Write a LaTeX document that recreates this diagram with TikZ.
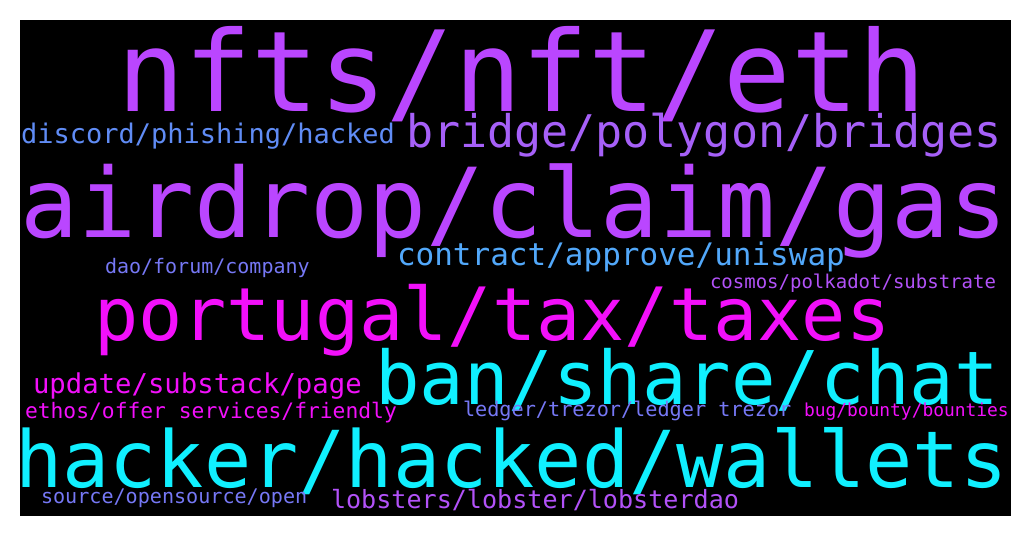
\documentclass[tikz,border=0pt]{standalone}
\usepackage{fontspec}
\newfontfamily\cloudfont{DejaVu Sans Mono}
\usepackage{tikz}
\usetikzlibrary{positioning}

\definecolor{cyanw}{RGB}{16,240,255}
\definecolor{magw}{RGB}{242,16,250}
\definecolor{purw}{RGB}{186,70,255}
\definecolor{violw}{RGB}{166,96,248}
\definecolor{cornw}{RGB}{96,140,245}
\definecolor{skyw}{RGB}{82,168,250}
\definecolor{slatew}{RGB}{118,120,245}
\definecolor{lilacw}{RGB}{178,82,248}

\newcommand{\wsize}[1]{\cloudfont\fontsize{#1}{#1}\selectfont}

\begin{document}
\begin{tikzpicture}[x=1pt, y=-1pt,
wordnode/.style={anchor=base west, inner sep=0pt, outer sep=0pt},
]
\useasboundingbox (0,0) rectangle (1031,536);
\fill[black] (20,20) rectangle (1011,516);

%Nodes
\node[wordnode, text=purw, font=\wsize{112}]    (nfts)     at (117,111)  {nfts/nft/eth};
\node[wordnode, text=cornw, font=\wsize{27}]    (discord)  at (21,143)   {discord/phishing/hacked};
\node[wordnode, text=violw, font=\wsize{45}]    (bridge)   at (406,147)  {bridge/polygon/bridges};
\node[wordnode, text=purw, font=\wsize{96.5}]   (airdrop)  at (20,237)   {airdrop/claim/gas};
\node[wordnode, text=skyw, font=\wsize{31}]     (contract) at (397,265)  {contract/approve/uniswap};
\node[wordnode, text=slatew, font=\wsize{20}]   (dao)      at (105,273)  {dao/forum/company};
\node[wordnode, text=lilacw, font=\wsize{19}]   (cosmos)   at (710,288)  {cosmos/polkadot/substrate};
\node[wordnode, text=magw, font=\wsize{73.5}]   (portugal) at (94,340)   {portugal/tax/taxes};
\node[wordnode, text=cyanw, font=\wsize{74}]    (ban)      at (375,404)  {ban/share/chat};
\node[wordnode, text=magw, font=\wsize{27.3}]   (update)   at (33,393)   {update/substack/page};
\node[wordnode, text=magw, font=\wsize{21.3}]   (ethos)    at (25,418)   {ethos/offer services/friendly};
\node[wordnode, text=slatew, font=\wsize{20.2}] (ledger)   at (463,416)  {ledger/trezor/ledger trezor};
\node[wordnode, text=magw, font=\wsize{17.9}]   (bug)      at (804,416)  {bug/bounty/bounties};
\node[wordnode, text=cyanw, font=\wsize{78.5}]  (hacker)   at (15,487)   {hacker/hacked/wallets};
\node[wordnode, text=slatew, font=\wsize{20.1}] (source)   at (41,503)   {source/opensource/open};
\node[wordnode, text=lilacw, font=\wsize{25.1}] (lobsters) at (331,508)  {lobsters/lobster/lobsterdao};
\end{tikzpicture}
\end{document}
